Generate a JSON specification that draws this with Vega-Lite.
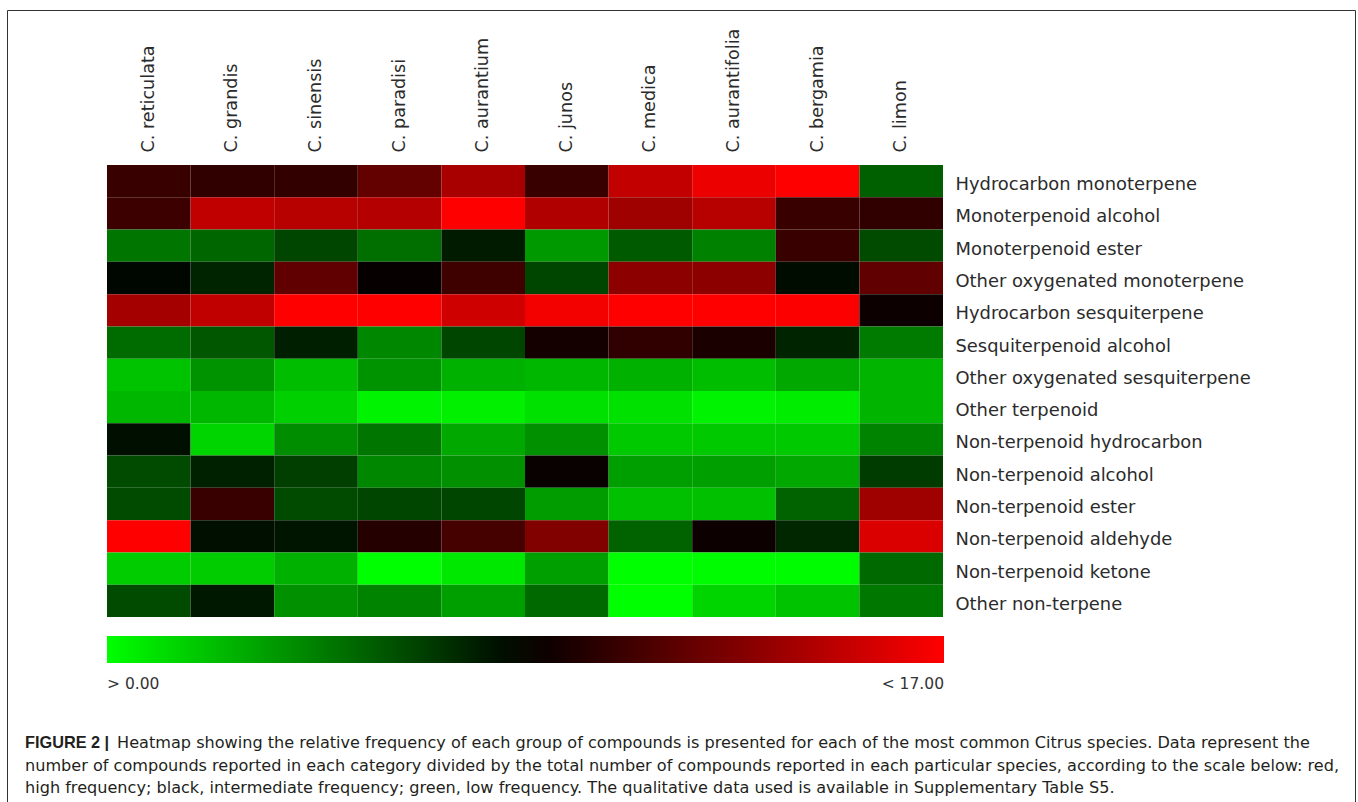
{
"$schema": "https://vega.github.io/schema/vega-lite/v6.json",
"width": 1348,
"height": 792,
"autosize": {"type": "none"},
"padding": {"left": 7, "top": 10, "right": 3, "bottom": 0},
"background": "white",
"config": {"view": {"stroke": "#333333", "strokeWidth": 1}, "font": "DejaVu Sans"},
"title": {
  "text": "FIGURE 2 |",
  "subtitle": [
    "\u200b\u00a0\u00a0\u00a0\u00a0\u00a0\u00a0\u00a0\u00a0\u00a0\u00a0\u00a0\u00a0\u00a0\u00a0\u00a0\u00a0\u00a0\u00a0Heatmap showing the relative frequency of each group of compounds is presented for each of the most common Citrus species. Data represent the",
    "number of compounds reported in each category divided by the total number of compounds reported in each particular species, according to the scale below: red,",
    "high frequency; black, intermediate frequency; green, low frequency. The qualitative data used is available in Supplementary Table S5."
  ],
  "orient": "bottom",
  "anchor": "start",
  "frame": "group",
  "offset": -67,
  "dx": 18,
  "font": "Liberation Sans",
  "fontSize": 16.3,
  "fontWeight": "bold",
  "color": "#231f20",
  "subtitleFont": "DejaVu Sans",
  "subtitleFontSize": 16.1,
  "subtitleColor": "#231f20",
  "subtitlePadding": -16,
  "subtitleLineHeight": 22.5
},
"data": {"values": [
{"s":"C. reticulata","g":"Hydrocarbon monoterpene","v":10.4},
{"s":"C. grandis","g":"Hydrocarbon monoterpene","v":10.1},
{"s":"C. sinensis","g":"Hydrocarbon monoterpene","v":10.2},
{"s":"C. paradisi","g":"Hydrocarbon monoterpene","v":11.8},
{"s":"C. aurantium","g":"Hydrocarbon monoterpene","v":14.1},
{"s":"C. junos","g":"Hydrocarbon monoterpene","v":10.4},
{"s":"C. medica","g":"Hydrocarbon monoterpene","v":15.0},
{"s":"C. aurantifolia","g":"Hydrocarbon monoterpene","v":16.4},
{"s":"C. bergamia","g":"Hydrocarbon monoterpene","v":17},
{"s":"C. limon","g":"Hydrocarbon monoterpene","v":5.3},
{"s":"C. reticulata","g":"Monoterpenoid alcohol","v":10.5},
{"s":"C. grandis","g":"Monoterpenoid alcohol","v":14.9},
{"s":"C. sinensis","g":"Monoterpenoid alcohol","v":14.6},
{"s":"C. paradisi","g":"Monoterpenoid alcohol","v":14.5},
{"s":"C. aurantium","g":"Monoterpenoid alcohol","v":17},
{"s":"C. junos","g":"Monoterpenoid alcohol","v":14.4},
{"s":"C. medica","g":"Monoterpenoid alcohol","v":13.8},
{"s":"C. aurantifolia","g":"Monoterpenoid alcohol","v":14.6},
{"s":"C. bergamia","g":"Monoterpenoid alcohol","v":10.4},
{"s":"C. limon","g":"Monoterpenoid alcohol","v":10.1},
{"s":"C. reticulata","g":"Monoterpenoid ester","v":4.6},
{"s":"C. grandis","g":"Monoterpenoid ester","v":5.1},
{"s":"C. sinensis","g":"Monoterpenoid ester","v":6.2},
{"s":"C. paradisi","g":"Monoterpenoid ester","v":4.8},
{"s":"C. aurantium","g":"Monoterpenoid ester","v":7.6},
{"s":"C. junos","g":"Monoterpenoid ester","v":3.4},
{"s":"C. medica","g":"Monoterpenoid ester","v":5.5},
{"s":"C. aurantifolia","g":"Monoterpenoid ester","v":4.2},
{"s":"C. bergamia","g":"Monoterpenoid ester","v":10.4},
{"s":"C. limon","g":"Monoterpenoid ester","v":6.0},
{"s":"C. reticulata","g":"Other oxygenated monoterpene","v":8.3},
{"s":"C. grandis","g":"Other oxygenated monoterpene","v":7.3},
{"s":"C. sinensis","g":"Other oxygenated monoterpene","v":11.7},
{"s":"C. paradisi","g":"Other oxygenated monoterpene","v":8.7},
{"s":"C. aurantium","g":"Other oxygenated monoterpene","v":10.6},
{"s":"C. junos","g":"Other oxygenated monoterpene","v":6.2},
{"s":"C. medica","g":"Other oxygenated monoterpene","v":13.2},
{"s":"C. aurantifolia","g":"Other oxygenated monoterpene","v":13.2},
{"s":"C. bergamia","g":"Other oxygenated monoterpene","v":8.1},
{"s":"C. limon","g":"Other oxygenated monoterpene","v":11.7},
{"s":"C. reticulata","g":"Hydrocarbon sesquiterpene","v":14.0},
{"s":"C. grandis","g":"Hydrocarbon sesquiterpene","v":14.9},
{"s":"C. sinensis","g":"Hydrocarbon sesquiterpene","v":17},
{"s":"C. paradisi","g":"Hydrocarbon sesquiterpene","v":17},
{"s":"C. aurantium","g":"Hydrocarbon sesquiterpene","v":15.4},
{"s":"C. junos","g":"Hydrocarbon sesquiterpene","v":16.6},
{"s":"C. medica","g":"Hydrocarbon sesquiterpene","v":17},
{"s":"C. aurantifolia","g":"Hydrocarbon sesquiterpene","v":17},
{"s":"C. bergamia","g":"Hydrocarbon sesquiterpene","v":16.9},
{"s":"C. limon","g":"Hydrocarbon sesquiterpene","v":8.9},
{"s":"C. reticulata","g":"Sesquiterpenoid alcohol","v":4.9},
{"s":"C. grandis","g":"Sesquiterpenoid alcohol","v":5.6},
{"s":"C. sinensis","g":"Sesquiterpenoid alcohol","v":7.5},
{"s":"C. paradisi","g":"Sesquiterpenoid alcohol","v":4.0},
{"s":"C. aurantium","g":"Sesquiterpenoid alcohol","v":6.2},
{"s":"C. junos","g":"Sesquiterpenoid alcohol","v":9.2},
{"s":"C. medica","g":"Sesquiterpenoid alcohol","v":10.1},
{"s":"C. aurantifolia","g":"Sesquiterpenoid alcohol","v":9.4},
{"s":"C. bergamia","g":"Sesquiterpenoid alcohol","v":7.3},
{"s":"C. limon","g":"Sesquiterpenoid alcohol","v":4.4},
{"s":"C. reticulata","g":"Other oxygenated sesquiterpene","v":2.0},
{"s":"C. grandis","g":"Other oxygenated sesquiterpene","v":3.6},
{"s":"C. sinensis","g":"Other oxygenated sesquiterpene","v":2.2},
{"s":"C. paradisi","g":"Other oxygenated sesquiterpene","v":3.6},
{"s":"C. aurantium","g":"Other oxygenated sesquiterpene","v":2.6},
{"s":"C. junos","g":"Other oxygenated sesquiterpene","v":2.4},
{"s":"C. medica","g":"Other oxygenated sesquiterpene","v":2.6},
{"s":"C. aurantifolia","g":"Other oxygenated sesquiterpene","v":2.2},
{"s":"C. bergamia","g":"Other oxygenated sesquiterpene","v":2.9},
{"s":"C. limon","g":"Other oxygenated sesquiterpene","v":2.5},
{"s":"C. reticulata","g":"Other terpenoid","v":2.4},
{"s":"C. grandis","g":"Other terpenoid","v":2.4},
{"s":"C. sinensis","g":"Other terpenoid","v":1.6},
{"s":"C. paradisi","g":"Other terpenoid","v":0.4},
{"s":"C. aurantium","g":"Other terpenoid","v":0.5},
{"s":"C. junos","g":"Other terpenoid","v":1.0},
{"s":"C. medica","g":"Other terpenoid","v":1.0},
{"s":"C. aurantifolia","g":"Other terpenoid","v":0.4},
{"s":"C. bergamia","g":"Other terpenoid","v":0.6},
{"s":"C. limon","g":"Other terpenoid","v":2.5},
{"s":"C. reticulata","g":"Non-terpenoid hydrocarbon","v":8.0},
{"s":"C. grandis","g":"Non-terpenoid hydrocarbon","v":1.4},
{"s":"C. sinensis","g":"Non-terpenoid hydrocarbon","v":3.8},
{"s":"C. paradisi","g":"Non-terpenoid hydrocarbon","v":4.6},
{"s":"C. aurantium","g":"Non-terpenoid hydrocarbon","v":2.9},
{"s":"C. junos","g":"Non-terpenoid hydrocarbon","v":3.7},
{"s":"C. medica","g":"Non-terpenoid hydrocarbon","v":1.8},
{"s":"C. aurantifolia","g":"Non-terpenoid hydrocarbon","v":1.8},
{"s":"C. bergamia","g":"Non-terpenoid hydrocarbon","v":1.8},
{"s":"C. limon","g":"Non-terpenoid hydrocarbon","v":4.1},
{"s":"C. reticulata","g":"Non-terpenoid alcohol","v":6.0},
{"s":"C. grandis","g":"Non-terpenoid alcohol","v":7.4},
{"s":"C. sinensis","g":"Non-terpenoid alcohol","v":6.4},
{"s":"C. paradisi","g":"Non-terpenoid alcohol","v":4.0},
{"s":"C. aurantium","g":"Non-terpenoid alcohol","v":3.7},
{"s":"C. junos","g":"Non-terpenoid alcohol","v":8.8},
{"s":"C. medica","g":"Non-terpenoid alcohol","v":3.2},
{"s":"C. aurantifolia","g":"Non-terpenoid alcohol","v":3.2},
{"s":"C. bergamia","g":"Non-terpenoid alcohol","v":2.9},
{"s":"C. limon","g":"Non-terpenoid alcohol","v":6.5},
{"s":"C. reticulata","g":"Non-terpenoid ester","v":6.0},
{"s":"C. grandis","g":"Non-terpenoid ester","v":10.4},
{"s":"C. sinensis","g":"Non-terpenoid ester","v":6.0},
{"s":"C. paradisi","g":"Non-terpenoid ester","v":6.2},
{"s":"C. aurantium","g":"Non-terpenoid ester","v":6.2},
{"s":"C. junos","g":"Non-terpenoid ester","v":3.3},
{"s":"C. medica","g":"Non-terpenoid ester","v":2.1},
{"s":"C. aurantifolia","g":"Non-terpenoid ester","v":2.1},
{"s":"C. bergamia","g":"Non-terpenoid ester","v":5.2},
{"s":"C. limon","g":"Non-terpenoid ester","v":13.8},
{"s":"C. reticulata","g":"Non-terpenoid aldehyde","v":17},
{"s":"C. grandis","g":"Non-terpenoid aldehyde","v":8.0},
{"s":"C. sinensis","g":"Non-terpenoid aldehyde","v":7.8},
{"s":"C. paradisi","g":"Non-terpenoid aldehyde","v":9.7},
{"s":"C. aurantium","g":"Non-terpenoid aldehyde","v":10.8},
{"s":"C. junos","g":"Non-terpenoid aldehyde","v":12.8},
{"s":"C. medica","g":"Non-terpenoid aldehyde","v":5.2},
{"s":"C. aurantifolia","g":"Non-terpenoid aldehyde","v":8.9},
{"s":"C. bergamia","g":"Non-terpenoid aldehyde","v":7.2},
{"s":"C. limon","g":"Non-terpenoid aldehyde","v":15.8},
{"s":"C. reticulata","g":"Non-terpenoid ketone","v":1.7},
{"s":"C. grandis","g":"Non-terpenoid ketone","v":1.7},
{"s":"C. sinensis","g":"Non-terpenoid ketone","v":2.6},
{"s":"C. paradisi","g":"Non-terpenoid ketone","v":0},
{"s":"C. aurantium","g":"Non-terpenoid ketone","v":0.8},
{"s":"C. junos","g":"Non-terpenoid ketone","v":3.2},
{"s":"C. medica","g":"Non-terpenoid ketone","v":0},
{"s":"C. aurantifolia","g":"Non-terpenoid ketone","v":0.1},
{"s":"C. bergamia","g":"Non-terpenoid ketone","v":0.1},
{"s":"C. limon","g":"Non-terpenoid ketone","v":5.0},
{"s":"C. reticulata","g":"Other non-terpene","v":6.0},
{"s":"C. grandis","g":"Other non-terpene","v":7.7},
{"s":"C. sinensis","g":"Other non-terpene","v":3.7},
{"s":"C. paradisi","g":"Other non-terpene","v":4.1},
{"s":"C. aurantium","g":"Other non-terpene","v":3.2},
{"s":"C. junos","g":"Other non-terpene","v":5.0},
{"s":"C. medica","g":"Other non-terpene","v":0},
{"s":"C. aurantifolia","g":"Other non-terpene","v":1.4},
{"s":"C. bergamia","g":"Other non-terpene","v":2.0},
{"s":"C. limon","g":"Other non-terpene","v":4.5}
]},
"mark": {"type": "rect"},
"encoding": {
  "x": {
    "field": "s", "type": "nominal",
    "sort": ["C. reticulata","C. grandis","C. sinensis","C. paradisi","C. aurantium","C. junos","C. medica","C. aurantifolia","C. bergamia","C. limon"],
    "scale": {"paddingInner": 0, "paddingOuter": 0, "range": [100, 936]},
    "axis": {"orient": "top", "title": null, "labelAngle": -90, "domain": false, "ticks": false, "offset": -145, "labelPadding": 3, "labelFont": "DejaVu Sans", "labelFontSize": 17.6, "labelColor": "#2b2b2b", "labelLimit": 0}
  },
  "y": {
    "field": "g", "type": "nominal",
    "sort": ["Hydrocarbon monoterpene","Monoterpenoid alcohol","Monoterpenoid ester","Other oxygenated monoterpene","Hydrocarbon sesquiterpene","Sesquiterpenoid alcohol","Other oxygenated sesquiterpene","Other terpenoid","Non-terpenoid hydrocarbon","Non-terpenoid alcohol","Non-terpenoid ester","Non-terpenoid aldehyde","Non-terpenoid ketone","Other non-terpene"],
    "scale": {"paddingInner": 0, "paddingOuter": 0, "range": [155, 607]},
    "axis": {"orient": "right", "title": null, "domain": false, "ticks": false, "offset": -412, "labelPadding": 12, "labelFont": "DejaVu Sans", "labelFontSize": 17.9, "labelColor": "#2b2b2b", "labelLimit": 0, "labelOffset": 4}
  },
  "color": {
    "field": "v", "type": "quantitative",
    "scale": {"domain": [0, 8.5, 17], "range": ["#00ff00", "#000000", "#ff0000"], "interpolate": "rgb"},
    "legend": {"type": "gradient", "orient": "none", "legendX": 100, "legendY": 626, "direction": "horizontal", "title": null, "gradientLength": 837, "gradientThickness": 27, "gradientStrokeWidth": 0, "values": [0, 17], "labelExpr": "datum.value <= 0 ? '> 0.00' : '< 17.00'", "labelFont": "DejaVu Sans", "labelFontSize": 15.5, "labelColor": "#333333", "labelOffset": 14, "padding": 0}
  }
}
}
